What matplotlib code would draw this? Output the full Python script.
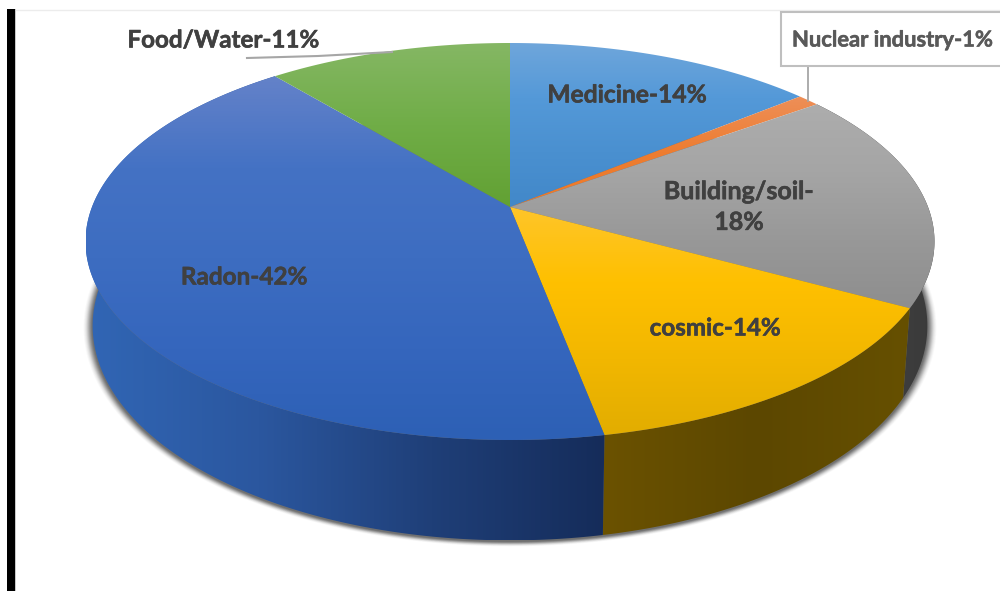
import numpy as np
import matplotlib
matplotlib.use('Agg')
import matplotlib.pyplot as plt
import matplotlib.patheffects as pe
from matplotlib.patches import Polygon, Rectangle

plt.rcParams['font.family'] = ['Lato', 'DejaVu Sans']

labels = ['Medicine', 'Nuclear industry', 'Building/soil', 'cosmic', 'Radon', 'Food/Water']
values = [14, 1, 18, 14, 42, 11]

# top to bottom of each slice
top_cols = [['#6fa6db', '#5499d8', '#4a90d0', '#4288c9'],
            ['#ee8f58', '#ed7d31', '#ef7a28'],
            ['#adadad', '#a5a5a5', '#989898', '#8e8e8e'],
            ['#fec52a', '#ffc000', '#f2b700', '#e2ad00'],
            ['#6482c9', '#4472c4', '#3d6dc1', '#3566bd', '#2d60b5'],
            ['#85b764', '#70ad47', '#62a133']]
# left to right along the side wall
side_cols = {2: ['#353535', '#404040', '#3a3a3a'],
             3: ['#6b5200', '#5c4700', '#665000'],
             4: ['#3166b5', '#2b579f', '#1f3f78', '#152c5a']}


def proj(frac, rx, ry, y0):
    a = 2 * np.pi * frac
    u, v = np.sin(a), np.cos(a)
    d = 1 + 0.1738 * v
    return 510 + rx * u / d, 207 - y0 - ry * v / d


def top_xy(frac):
    return proj(frac, 418, 192.5, 0)


def low_xy(frac):
    return proj(frac, 411, 208, -81.6)


def hex_rgb(c):
    return np.array(matplotlib.colors.to_rgb(c))


def grad(ax, poly, cols, horizontal=False):
    # gradient image clipped to the polygon
    x0, y0 = poly.min(axis=0)
    x1, y1 = poly.max(axis=0)
    t = np.linspace(0, 1, 256)
    stops = np.linspace(0, 1, len(cols))
    rgb = np.array([np.interp(t, stops, [hex_rgb(c)[i] for c in cols]) for i in range(3)]).T
    img = rgb[np.newaxis, :, :] if horizontal else rgb[:, np.newaxis, :]
    im = ax.imshow(img, extent=(x0, x1, y1, y0), aspect='auto', interpolation='bilinear', zorder=3)
    p = Polygon(poly, closed=True, transform=ax.transData, fc='none', ec='none')
    ax.add_patch(p)
    im.set_clip_path(p)


fig = plt.figure(figsize=(10, 5.91), dpi=100)
ax = fig.add_axes([0, 0, 1, 1])

# page edge marks
ax.add_patch(Rectangle((7, 9), 8, 582, fc='black', ec='none', zorder=1))
ax.add_patch(Rectangle((15, 9), 1.2, 582, fc='#c8c8c8', ec='none', zorder=1))
ax.plot([16, 1000], [9.5, 9.5], color='#ececec', lw=1, zorder=1)

bounds = np.cumsum([0] + values) / sum(values)

# soft shadow under the pie
f = np.linspace(0, 1, 361)
lx, ly = low_xy(f)
for d, al in zip([9, 8, 7, 6, 5, 4, 3, 2, 1], [0.04, 0.06, 0.08, 0.12, 0.16, 0.2, 0.25, 0.3, 0.35]):
    sx = 510 + (lx - 510) * (1 + d / 415)
    sy = 290 + (ly - 290) * (1 + d / 450) + 1
    ax.add_patch(Polygon(np.c_[sx, sy], closed=True, fc='#555555', ec='none', alpha=al, zorder=2))

# side walls
for i in side_cols:
    f = np.linspace(bounds[i], bounds[i + 1], 200)
    tx, ty = top_xy(f)
    bx, by = low_xy(f)
    poly = np.r_[np.c_[tx, ty], np.c_[bx, by][::-1]]
    grad(ax, poly, side_cols[i], horizontal=True)

# top faces
for i in range(len(values)):
    f = np.linspace(bounds[i], bounds[i + 1], 200)
    tx, ty = top_xy(f)
    poly = np.r_[[[510, 207]], np.c_[tx, ty]]
    grad(ax, poly, top_cols[i])

# leaders and the boxed label
ax.plot([247, 318, 392], [58, 56, 52], color='#a6a6a6', lw=1.5, zorder=4)
ax.plot([808, 808], [66, 101], color='#a6a6a6', lw=1.3, zorder=4)
ax.add_patch(Rectangle((780.5, 12), 230, 54, fc='white', ec='#bfbfbf', lw=1.5, zorder=4))

tk = dict(fontweight='bold', ha='center', va='center', zorder=5)
for x, y, s, c, fs in [(223, 40, 'Food/Water-11%', '#404040', 17.4),
                       (893, 40, 'Nuclear industry-1%', '#595959', 15.8),
                       (627, 95, 'Medicine-14%', '#404040', 17.7),
                       (739, 207, 'Building/soil-\n18%', '#404040', 18),
                       (715, 328, 'cosmic-14%', '#404040', 17.4),
                       (244, 277, 'Radon-42%', '#404040', 17.5)]:
    t = ax.text(x, y, s, color=c, fontsize=fs, linespacing=1.41, **tk)
    t.set_path_effects([pe.withStroke(linewidth=0.4, foreground=c)])

ax.set_xlim(0, 1000)
ax.set_ylim(591, 0)
ax.axis('off')
fig.savefig('out.png', dpi=100, facecolor='white')
